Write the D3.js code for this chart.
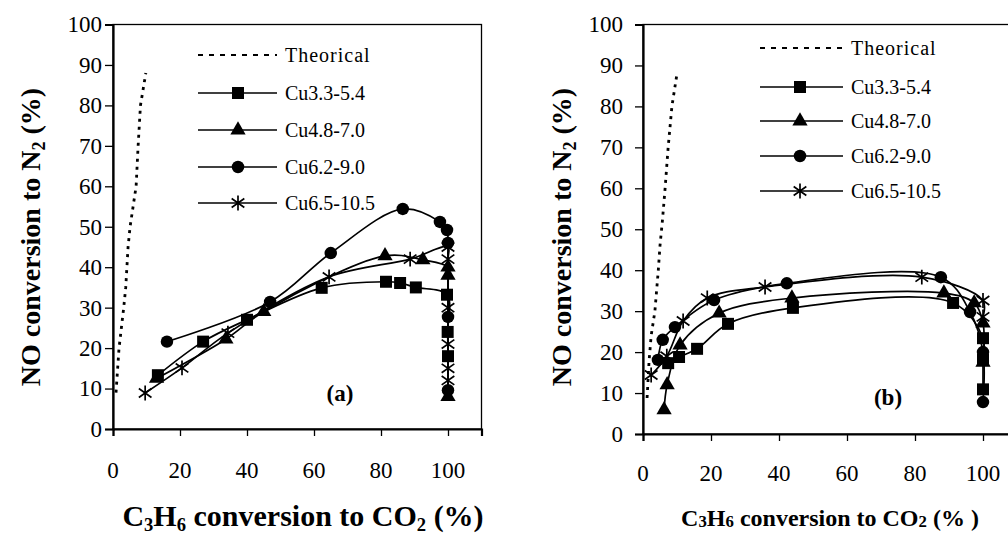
<!DOCTYPE html>
<html><head><meta charset="utf-8">
<script src="https://cdn.jsdelivr.net/npm/d3@7"></script>
<style>body{margin:0;background:#fff}svg{display:block}text{font-family:"Liberation Serif","Times New Roman",serif;fill:#000}</style>
</head><body><svg id="c" width="1008" height="536"></svg>
<script>
// ---------- data ----------
const xTicks = [0, 20, 40, 60, 80, 100];
const yTicks = [0, 10, 20, 30, 40, 50, 60, 70, 80, 90, 100];
const seriesNames = ["Cu3.3-5.4", "Cu4.8-7.0", "Cu6.2-9.0", "Cu6.5-10.5"];
const theorName = "Theorical";

// panel (a)
const aTheor = [[0.9,9],[1.8,20],[3.2,30],[3.8,35],[4.5,45],[5.1,50],[6.9,60],[7.5,70],[8.2,80],[9.8,88]];
const aCu33 = [[13.4,13.3],[26.9,21.6],[40,27],[62.3,34.9],[81.5,36.4],[85.7,36.1],[90.4,35],[99.7,33.2],[99.9,24],[100,18]];
const aCu48 = [[13,12.5],[33.7,22.2],[45,29],[81.2,42.8],[92.5,41.8],[100,40],[100,38],[100,8]];
const aCu62 = [[16.1,21.6],[46.9,31.4],[65,43.5],[86.5,54.4],[97.6,51.2],[99.7,49.2],[100,46],[100,27.7],[100,9.6]];
const aCu65 = [[9.6,8.9],[20.6,15.1],[34.3,23.7],[64.5,37.6],[88.7,42],[100,45],[100,42],[100,30],[100,21],[100,15],[100,12]];

// panel (b)
const bTheor = [[1.2,8.8],[1.8,18],[2.4,24],[3.5,30],[4.5,40],[5,46],[5.7,52],[6.5,60],[7.4,70],[8.5,80],[10,88]];
const bCu33 = [[7.4,17.3],[10.6,18.8],[15.9,20.8],[25,26.9],[44.1,30.8],[91.2,32],[100,23.4],[100,18.1],[100,10.9]];
const bCu48 = [[6.2,5.9],[7.1,12],[10.9,21.7],[22.4,29.5],[43.8,33.2],[88.5,34.4],[97.4,32],[100,27.1],[100,17.5]];
const bCu62 = [[4.4,18.1],[5.8,23],[9.4,26.1],[20.9,32.7],[42.3,36.8],[87.6,38.3],[96.2,29.8],[100,20],[100,7.8]];
const bCu65 = [[2.4,14.4],[7,19],[11.8,27.6],[18.9,33.2],[35.9,35.9],[82,38.3],[100,32.6],[100,28.6]];

// ---------- drawing ----------
const svg = d3.select("#c");
const markers = ["square", "triangle", "circle", "star"];

function markerPath(type, s) {
  if (type === "square") return d3.symbol(d3.symbolSquare, s * s)();
  if (type === "triangle") return d3.symbol(d3.symbolTriangle, s * s * 0.7)();
  if (type === "circle") return d3.symbol(d3.symbolCircle, s * s * 0.85)();
  const r = s * 0.62, dx = r * 0.85, dy = r * 0.6;
  return `M0,${-r}L0,${r}M${-dx},${-dy}L${dx},${dy}M${-dx},${dy}L${dx},${-dy}`;
}
function drawMarker(g, type, x, y, s) {
  const p = g.append("path").attr("d", markerPath(type, s)).attr("transform", `translate(${x},${y})`);
  if (type === "star") p.attr("fill", "none").attr("stroke", "#000").attr("stroke-width", 1.7);
  else p.attr("fill", "#000");
}

function panel(cfg) {
  const x = d3.scaleLinear().domain([0, 110]).range([cfg.x0, cfg.x0 + 110 * cfg.kx]);
  const y = d3.scaleLinear().domain([0, 100]).range([cfg.y0, cfg.yTop]);
  const g = svg.append("g");
  // frame
  g.append("rect").attr("x", x(0)).attr("y", y(100)).attr("width", x(110) - x(0)).attr("height", y(0) - y(100))
    .attr("fill", "none").attr("stroke", "#000").attr("stroke-width", 1.3);
  // y axis
  const ya = g.append("g").attr("transform", `translate(${x(0)},0)`)
    .call(d3.axisLeft(y).tickValues(yTicks).tickSize(8).tickPadding(cfg.yPad).tickFormat(d3.format("d")));
  ya.select(".domain").attr("stroke-width", 2.2);
  ya.selectAll(".tick line").attr("stroke-width", 1.3);
  ya.selectAll("text").attr("font-size", 23).attr("font-family", "Liberation Serif");
  // x axis (labels drawn separately below)
  const xa = g.append("g").attr("transform", `translate(0,${y(0)})`)
    .call(d3.axisBottom(x).tickValues(xTicks).tickSize(7).tickFormat(""));
  xa.select(".domain").attr("stroke-width", 2.2);
  xa.selectAll(".tick line").attr("stroke-width", 1.3);
  g.selectAll("text.xlab").data(xTicks).join("text").attr("class", "xlab")
    .attr("x", d => x(d)).attr("y", y(0) + cfg.xLabY)
    .attr("text-anchor", "middle").attr("dominant-baseline", "central")
    .attr("font-size", 23).text(d => d3.format("d")(d));

  // theoretical
  g.append("path").datum(cfg.theor)
    .attr("d", d3.line().x(d => x(d[0])).y(d => y(d[1])))
    .attr("fill", "none").attr("stroke", "#000").attr("stroke-width", 2.8).attr("stroke-dasharray", "3,5");
  // series
  const line = d3.line().x(d => x(d[0])).y(d => y(d[1])).curve(d3.curveCatmullRom.alpha(0.5));
  cfg.series.forEach((s) => {
    g.append("path").datum(s).attr("d", line).attr("fill", "none").attr("stroke", "#000").attr("stroke-width", 1.7);
  });
  cfg.series.forEach((s, i) => {
    s.forEach(d => drawMarker(g, markers[i], x(d[0]), y(d[1]), 12));
  });

  // legend
  const L = cfg.legend;
  g.append("line").attr("x1", L.x1).attr("x2", L.x2).attr("y1", L.ys[0]).attr("y2", L.ys[0])
    .attr("stroke", "#000").attr("stroke-width", 2).attr("stroke-dasharray", "5,6");
  g.append("text").attr("x", L.tx).attr("y", L.ys[0]).attr("dy", "0.35em").attr("font-size", 20)
    .attr("letter-spacing", 1).text(theorName);
  seriesNames.forEach((n, i) => {
    const yy = L.ys[i + 1];
    g.append("line").attr("x1", L.x1).attr("x2", L.x2).attr("y1", yy).attr("y2", yy).attr("stroke", "#000").attr("stroke-width", 1.7);
    drawMarker(g, markers[i], L.mx, yy, 12);
    g.append("text").attr("x", L.tx).attr("y", yy).attr("dy", "0.35em").attr("font-size", 20).text(n);
  });

  // panel label
  g.append("text").attr("x", cfg.lab[0]).attr("y", cfg.lab[1]).attr("font-size", 23).attr("font-weight", "bold")
    .attr("text-anchor", "middle").attr("dy", "0.35em").text(cfg.label);

  // y title
  const yt = g.append("text").attr("transform", `translate(${cfg.ytx},${cfg.yty}) rotate(-90)`)
    .attr("text-anchor", "middle").attr("font-size", cfg.ytSize).attr("font-weight", "bold");
  yt.append("tspan").text("NO conversion to N");
  yt.append("tspan").attr("font-size", cfg.ytSize * 0.65).attr("dy", 5).text("2");
  yt.append("tspan").attr("dy", -5).text(" (%)");

  // x title
  const xt = g.append("text").attr("x", cfg.xtx).attr("y", cfg.xty).attr("text-anchor", "middle")
    .attr("font-size", cfg.xtSize).attr("font-weight", "bold");
  const sub = cfg.xtSub;
  xt.append("tspan").text("C");
  xt.append("tspan").attr("font-size", cfg.xtSize * sub.f).attr("dy", sub.d).text("3");
  xt.append("tspan").attr("dy", -sub.d).text("H");
  xt.append("tspan").attr("font-size", cfg.xtSize * sub.f).attr("dy", sub.d).text("6");
  xt.append("tspan").attr("dy", -sub.d).text(" conversion to CO");
  xt.append("tspan").attr("font-size", cfg.xtSize * sub.f).attr("dy", sub.d).text("2");
  xt.append("tspan").attr("dy", -sub.d).text(cfg.xtEnd);
}

panel({
  x0: 113, kx: 3.35, y0: 429, yTop: 24.5, yPad: 3, xLabY: 41,
  theor: aTheor, series: [aCu33, aCu48, aCu62, aCu65],
  legend: { x1: 198, x2: 277, mx: 238, tx: 285, ys: [55, 93, 130, 167, 203] },
  label: "(a)", lab: [340, 393],
  ytx: 40, yty: 237, ytSize: 28,
  xtx: 303, xty: 526, xtSize: 30, xtSub: { f: 0.62, d: 5 }, xtEnd: " (%)"
});
panel({
  x0: 643, kx: 3.40, y0: 434, yTop: 24.5, yPad: 12, xLabY: 39,
  theor: bTheor, series: [bCu33, bCu48, bCu62, bCu65],
  legend: { x1: 760, x2: 843, mx: 800, tx: 851, ys: [48, 87, 121, 156, 191] },
  label: "(b)", lab: [888, 397],
  ytx: 571, yty: 237, ytSize: 28,
  xtx: 830, xty: 526, xtSize: 24, xtSub: { f: 0.7, d: 1 }, xtEnd: " (% )"
});
</script></body></html>
